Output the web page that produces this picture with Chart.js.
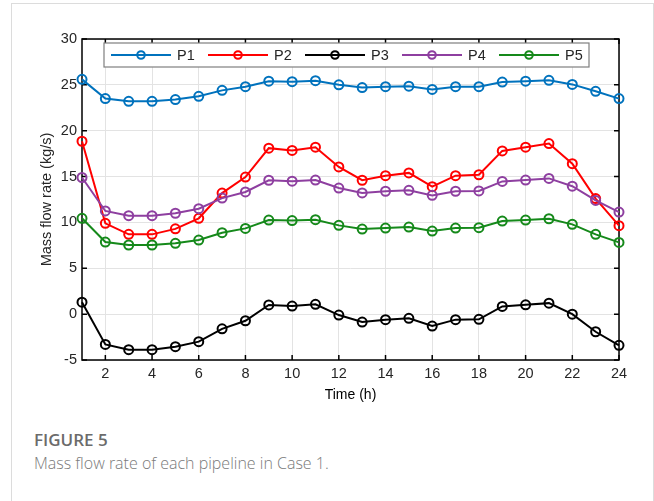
<!DOCTYPE html>
<html>
<head>
<meta charset="utf-8">
<script src="https://cdn.jsdelivr.net/npm/chart.js@4.4.1/dist/chart.umd.min.js"></script>
<style>
    html, body { margin: 0; padding: 0; background: #fff; }
    #wrap { position: relative; width: 654px; height: 501px; overflow: hidden; }
    #card { position: absolute; left: 11px; top: 3px; width: 641px; height: 520px; border: 1px solid #dcdcdc; }
    #chartBox { position: absolute; left: 0; top: 0; width: 654px; height: 420px; }
    #figTitle { position: absolute; left: 34px; top: 428px; font: 600 17px "Open Sans", sans-serif; color: #6b6b6b; }
    #figCaption { position: absolute; left: 34px; top: 452px; font: 300 16px "Open Sans", sans-serif; color: #7a7a7a; }
</style>
</head>
<body>
<div id="wrap">
    <div id="card"></div>
    <div id="chartBox"><canvas id="flowChart" width="654" height="420"></canvas></div>
    <div id="figTitle">FIGURE 5</div>
    <div id="figCaption">Mass flow rate of each pipeline in Case 1.</div>
</div>
<script>
const hours = [1, 2, 3, 4, 5, 6, 7, 8, 9, 10, 11, 12, 13, 14, 15, 16, 17, 18, 19, 20, 21, 22, 23, 24];
const seriesNames = ['P1', 'P2', 'P3', 'P4', 'P5'];
const p1 = [25.6, 23.5, 23.2, 23.2, 23.4, 23.75, 24.4, 24.8, 25.4, 25.35, 25.45, 25.0, 24.7, 24.8, 24.85, 24.5, 24.8, 24.8, 25.3, 25.4, 25.5, 25.05, 24.3, 23.5];
const p2 = [18.85, 9.9, 8.7, 8.7, 9.3, 10.45, 13.2, 14.95, 18.1, 17.85, 18.2, 16.05, 14.6, 15.1, 15.4, 13.9, 15.1, 15.2, 17.8, 18.2, 18.6, 16.4, 12.6, 9.65];
const p3 = [1.3, -3.3, -3.88, -3.88, -3.55, -3.0, -1.6, -0.72, 1.0, 0.88, 1.07, -0.1, -0.86, -0.6, -0.46, -1.3, -0.6, -0.57, 0.84, 1.02, 1.2, 0.0, -1.92, -3.4];
const p4 = [14.9, 11.25, 10.73, 10.73, 11.0, 11.5, 12.65, 13.32, 14.6, 14.5, 14.62, 13.75, 13.22, 13.4, 13.5, 12.95, 13.4, 13.43, 14.47, 14.62, 14.8, 13.95, 12.4, 11.13];
const p5 = [10.45, 7.86, 7.54, 7.54, 7.72, 8.08, 8.88, 9.35, 10.26, 10.2, 10.3, 9.68, 9.28, 9.39, 9.5, 9.06, 9.39, 9.43, 10.15, 10.26, 10.4, 9.79, 8.7, 7.82];
const xTicks = [2, 4, 6, 8, 10, 12, 14, 16, 18, 20, 22, 24];
const yTicks = [-5, 0, 5, 10, 15, 20, 25, 30];

const seriesValues = [p1, p2, p3, p4, p5];
const seriesColors = ['#0072bd', '#ff0000', '#000000', '#8e3fa0', '#15891a'];
const textColor = '#262626';
const fontFamily = 'Arial, "Liberation Sans", sans-serif';
const tickFont = { family: fontFamily, size: 14.5 };

function buildDataset(i) {
    return {
        label: seriesNames[i],
        data: hours.map(function (h, k) { return { x: h, y: seriesValues[i][k] }; }),
        borderColor: seriesColors[i],
        backgroundColor: 'rgba(0,0,0,0)',
        borderWidth: 2,
        pointRadius: 4.5,
        pointBorderWidth: 2,
        pointBackgroundColor: 'rgba(0,0,0,0)',
        pointBorderColor: seriesColors[i],
        tension: 0,
        clip: false,
        order: 5 - i
    };
}

// MATLAB-like box with inward ticks on all four sides
const framePlugin = {
    id: 'frame',
    beforeDatasetsDraw: function (chart) {
        const ctx = chart.ctx;
        const a = chart.chartArea;
        const xs = chart.scales.x;
        const ys = chart.scales.y;
        const len = 5;
        ctx.save();
        ctx.strokeStyle = '#000';
        ctx.lineWidth = 1.5;
        ctx.strokeRect(a.left, a.top, a.right - a.left, a.bottom - a.top);
        ctx.beginPath();
        xTicks.forEach(function (v) {
            const px = xs.getPixelForValue(v);
            ctx.moveTo(px, a.bottom); ctx.lineTo(px, a.bottom - len);
            ctx.moveTo(px, a.top); ctx.lineTo(px, a.top + len);
        });
        yTicks.forEach(function (v) {
            const py = ys.getPixelForValue(v);
            ctx.moveTo(a.left, py); ctx.lineTo(a.left + len, py);
            ctx.moveTo(a.right, py); ctx.lineTo(a.right - len, py);
        });
        ctx.stroke();
        ctx.restore();
    }
};

// legend box drawn inside the top of the plot
const boxLegendPlugin = {
    id: 'boxLegend',
    afterDraw: function (chart) {
        const ctx = chart.ctx;
        const left = 104, top = 43, right = 589, bottom = 67;
        const cy = (top + bottom) / 2;
        ctx.save();
        ctx.fillStyle = '#fff';
        ctx.fillRect(left, top, right - left, bottom - top);
        ctx.strokeStyle = '#7f7f7f';
        ctx.lineWidth = 1.2;
        ctx.strokeRect(left, top, right - left, bottom - top);
        ctx.font = '14.5px ' + fontFamily;
        ctx.textBaseline = 'middle';
        chart.data.datasets.forEach(function (ds, i) {
            const x0 = 111 + i * 97;
            ctx.strokeStyle = ds.borderColor;
            ctx.lineWidth = 2;
            ctx.beginPath();
            ctx.moveTo(x0, cy); ctx.lineTo(x0 + 60, cy);
            ctx.stroke();
            ctx.beginPath();
            ctx.arc(x0 + 30, cy, 3.8, 0, Math.PI * 2);
            ctx.stroke();
            ctx.fillStyle = textColor;
            ctx.fillText(ds.label, x0 + 66, cy + 1);
        });
        ctx.restore();
    }
};

new Chart(document.getElementById('flowChart'), {
    type: 'line',
    data: { datasets: seriesNames.map(function (n, i) { return buildDataset(i); }) },
    options: {
        responsive: false,
        animation: false,
        events: [],
        layout: { padding: { left: 34, top: 39, right: 35, bottom: 12 } },
        plugins: { legend: { display: false }, tooltip: { enabled: false } },
        scales: {
            x: {
                type: 'linear',
                min: 1,
                max: 24,
                afterBuildTicks: function (s) { s.ticks = xTicks.map(function (v) { return { value: v }; }); },
                afterFit: function (s) { s.height = 48; },
                ticks: { font: tickFont, color: textColor, padding: 5, maxRotation: 0 },
                grid: { color: '#e3e3e3', lineWidth: 1, drawTicks: false },
                border: { display: false },
                title: { display: true, text: 'Time (h)', font: { family: fontFamily, size: 14 }, color: '#000' }
            },
            y: {
                min: -5,
                max: 30,
                afterBuildTicks: function (s) { s.ticks = yTicks.map(function (v) { return { value: v }; }); },
                afterFit: function (s) { s.width = 48; },
                ticks: { font: tickFont, color: textColor, padding: 5 },
                grid: { color: '#e3e3e3', lineWidth: 1, drawTicks: false },
                border: { display: false },
                title: { display: true, text: 'Mass flow rate (kg/s)', font: { family: fontFamily, size: 14.5 }, color: textColor }
            }
        }
    },
    plugins: [framePlugin, boxLegendPlugin]
});
</script>
</body>
</html>
